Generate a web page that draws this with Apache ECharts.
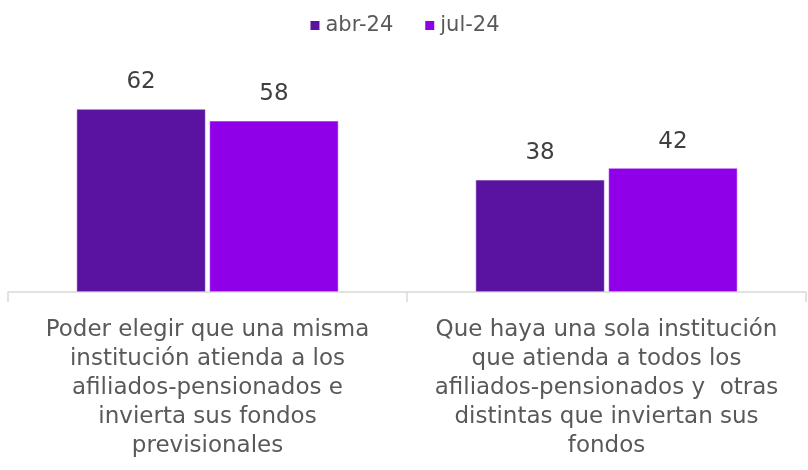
<!DOCTYPE html>
<html>
<head>
<meta charset="utf-8">
<script src="https://cdn.jsdelivr.net/npm/echarts@6/dist/echarts.min.js"></script>
<style>
html, body { margin: 0; padding: 0; background: #fff; }
#chart { width: 808px; height: 470px; }
</style>
</head>
<body>
<div id="chart"></div>
<script>
const categories = [
	'Poder elegir que una misma\ninstitución atienda a los\nafiliados-pensionados e\ninvierta sus fondos\nprevisionales',
	'Que haya una sola institución\nque atienda a todos los\nafiliados-pensionados y  otras\ndistintas que inviertan sus\nfondos'
];
const seriesNames = ['abr-24', 'jul-24'];
const abr24 = [62, 38];
const jul24 = [58, 42];

const colors = ['#5a12a0', '#8f00e8'];
const font = 'DejaVu Sans';

const chart = echarts.init(document.getElementById('chart'));

const barLabel = {
	show: true,
	position: 'top',
	distance: 15,
	color: '#404040',
	fontSize: 23,
	fontFamily: font
};

chart.setOption({
	animation: false,
	color: colors,
	legend: {
		top: 10,
		left: 'center',
		itemWidth: 11,
		itemHeight: 11,
		itemGap: 30,
		icon: 'rect',
		textStyle: {
			color: '#595959',
			fontSize: 21,
			fontFamily: font
		},
		data: seriesNames
	},
	grid: {
		left: 8,
		right: 2,
		top: 85.4,
		bottom: 178
	},
	xAxis: {
		type: 'category',
		data: categories,
		axisLine: { lineStyle: { color: '#d9d9d9', width: 1.5 } },
		axisTick: { show: true, length: 10, lineStyle: { color: '#d9d9d9', width: 1.5 } },
		axisLabel: {
			interval: 0,
			margin: 24,
			color: '#595959',
			fontSize: 23,
			lineHeight: 29,
			fontFamily: font
		}
	},
	yAxis: {
		type: 'value',
		min: 0,
		max: 70,
		show: false
	},
	series: [{
		name: seriesNames[0],
		type: 'bar',
		barWidth: 129,
		barGap: '3%',
		data: abr24,
		itemStyle: { borderColor: '#fff', borderWidth: 0.5 },
		label: barLabel
	}, {
		name: seriesNames[1],
		type: 'bar',
		barWidth: 129,
		barGap: '3%',
		data: jul24,
		itemStyle: { borderColor: '#fff', borderWidth: 0.5 },
		label: barLabel
	}]
});
</script>
</body>
</html>
